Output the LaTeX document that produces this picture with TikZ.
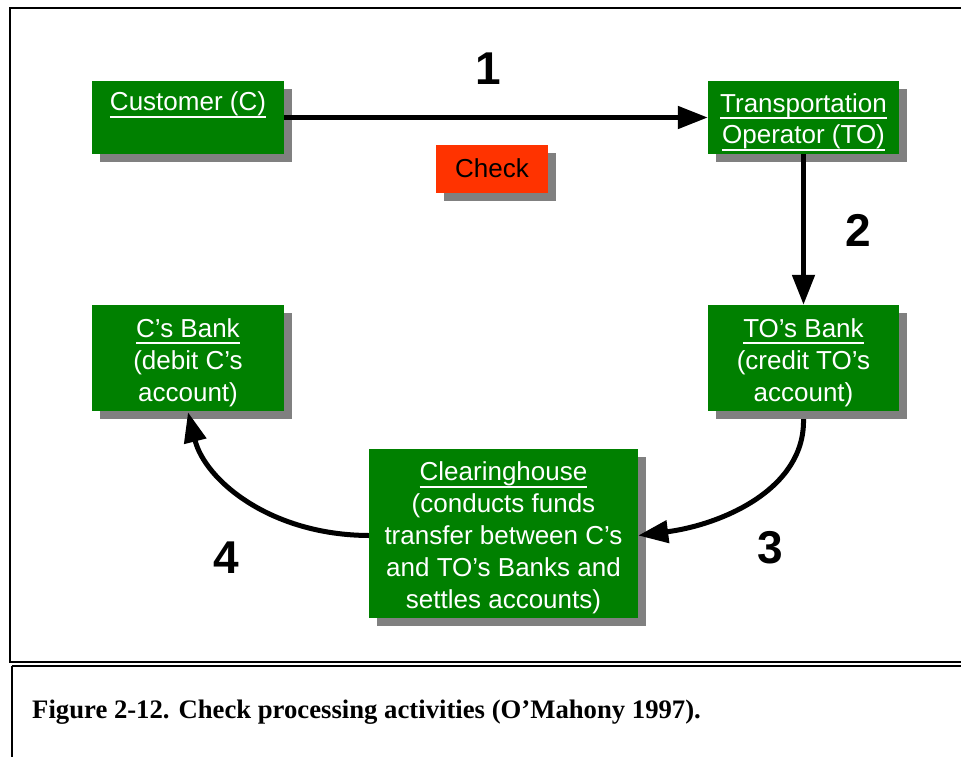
\documentclass[tikz,border=0pt]{standalone}
\usepackage{fontspec}
\setmainfont{Liberation Sans}
\newfontfamily\capfont{Liberation Serif}
\usetikzlibrary{arrows.meta,shadows}
\definecolor{boxgreen}{RGB}{0,128,0}
\definecolor{checkred}{RGB}{255,51,0}
\definecolor{shadowgray}{RGB}{128,128,128}
\newcommand\myul[1]{\setbox0\hbox{#1}\leavevmode\rlap{\rule[-7pt]{\wd0}{2pt}}\box0}
\newcommand\topfix{\rule{0pt}{28pt}}
\begin{document}
\begin{tikzpicture}[x=1pt,y=-1pt,
  boxshadow/.style={drop shadow={shadow xshift=8pt, shadow yshift=-8pt, fill=shadowgray, opacity=1}},
  greenbox/.style={rectangle, fill=boxgreen, text=white, align=center, inner sep=0pt,
    font=\fontsize{26}{32}\selectfont, boxshadow},
  redbox/.style={rectangle, fill=checkred, text=black, align=center, inner sep=0pt,
    font=\fontsize{26}{32}\selectfont, boxshadow},
  numlabel/.style={font=\fontsize{46}{50}\selectfont\bfseries, inner sep=0pt},
  conn/.style={line width=5pt, -{Triangle[length=30pt, width=22pt]}},
  framestyle/.style={line width=2pt, draw=black}
]
\useasboundingbox (0,0) rectangle (961,757);
\clip (0,0) rectangle (961,757);

% frame
\draw[framestyle] (975,8) -- (10,8) -- (10,663);
\draw[line width=1.6pt] (10,662) -- (975,662);
\draw[line width=1.6pt] (12,666) -- (975,666);
\draw[line width=2pt] (12,666) -- (12,765);

% boxes
\node[greenbox, minimum width=192, minimum height=73] (cust) at (188,117.5)
  {\myul{Customer (C)}\\\mbox{}};
\node[greenbox, minimum width=191, minimum height=73] (to) at (803.5,117.5)
  {\topfix\myul{Transportation}\\\myul{Operator (TO)}};
\node[redbox, minimum width=112, minimum height=48] (check) at (492,169) {\raisebox{2pt}{Check}};
\node[greenbox, minimum width=192, minimum height=106] (cbank) at (188,358)
  {\topfix\myul{C’s Bank}\\(debit C’s\\account)};
\node[greenbox, minimum width=191, minimum height=106] (tobank) at (803.5,358)
  {\topfix\myul{TO’s Bank}\\(credit TO’s\\account)};
\node[greenbox, minimum width=269, minimum height=169] (clear) at (503.5,533.5)
  {\topfix\myul{Clearinghouse}\\(conducts funds\\transfer between C’s\\and TO’s Banks and\\settles accounts)};

% connectors
\draw[conn] (cust.east) -- (to.west);
\draw[conn] (to.south) -- (tobank.north);
\coordinate (tobankout) at ([yshift=-8pt]tobank.south);
\coordinate (clearin) at ([yshift=-2pt]clear.east);
\draw[conn] (tobankout) .. controls (805,490) and (720,525) .. (clearin);
\coordinate (clearout) at ([yshift=-2pt]clear.west);
\coordinate (cbankin) at ([yshift=-1pt]cbank.south);
\draw[conn] (clearout) .. controls (270,535) and (205,480) .. (cbankin);

% numbers
\node[numlabel] (n1) at (488,69) {1};
\node[numlabel] (n2) at (858,230) {2};
\node[numlabel] (n3) at (770,548) {3};
\node[numlabel] (n4) at (226,558) {4};

% caption
\node[anchor=base west, inner sep=0pt, font=\capfont\fontsize{26.7}{30}\selectfont\bfseries] (cap) at (32,718)
  {Figure 2-12. Check processing activities (O’Mahony 1997).};
\end{tikzpicture}
\end{document}
